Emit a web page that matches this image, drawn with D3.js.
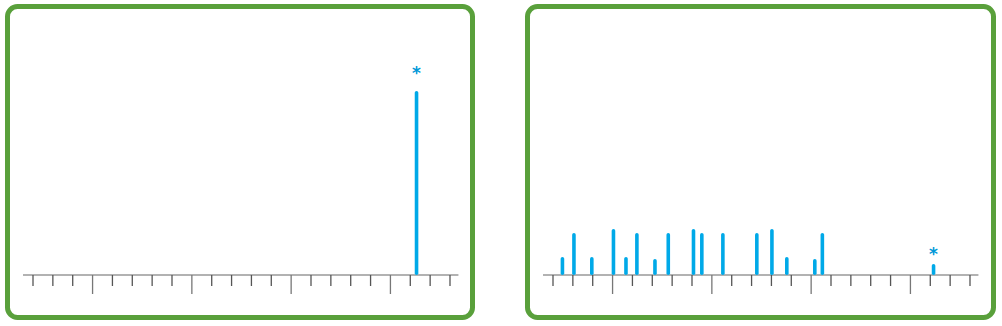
<!DOCTYPE html>
<html>
<head>
<meta charset="utf-8">
<script src="https://cdn.jsdelivr.net/npm/d3@7"></script>
<style>
	body { margin: 0; background: #fff; }
	svg { display: block; }
</style>
</head>
<body>
<div id="viz-container"></div>
<script>
// tick positions along each axis (0..21), long tick every 5th starting at 3
var tickIdx = d3.range(0, 22);
var longTicks = [3, 8, 13, 18];

// left panel: single peak
var leftPos = [19.34];
var leftVal = [184];
var leftStar = [true];

// right panel: many small peaks
var rightPos = [0.50, 1.08, 1.98, 3.07, 3.70, 4.25, 5.16, 5.83, 7.10, 7.52, 8.58, 10.29, 11.05, 11.80, 13.21, 13.59, 19.19];
var rightVal = [18, 42, 18, 46, 18, 42, 16, 42, 46, 42, 42, 42, 46, 18, 16, 42, 11];
var rightStar = [false, false, false, false, false, false, false, false, false, false, false, false, false, false, false, false, true];

var W = 1002, H = 326;

var svg = d3.select('#viz-container')
	.append('svg')
	.attr('width', W)
	.attr('height', H);

var x = d3.scaleLinear().domain([0, 21]).range([27.5, 444.5]);
var y = d3.scaleLinear().domain([0, 200]).range([275, 75]);

function drawPanel (left, width, pos, val, star, starGap) {
	var g = svg.append('g').attr('transform', 'translate(' + left + ',0)');

	g.append('rect')
		.attr('x', 2.5)
		.attr('y', 6.5)
		.attr('width', width)
		.attr('height', 311)
		.attr('rx', 10)
		.attr('fill', '#fff')
		.attr('stroke', '#59a03b')
		.attr('stroke-width', 5);

	// axis line
	g.append('line')
		.attr('x1', x(-0.48))
		.attr('x2', x(21.45))
		.attr('y1', y(0))
		.attr('y2', y(0))
		.attr('stroke', '#999')
		.attr('stroke-width', 1.5);

	var axis = d3.axisBottom(x)
		.tickValues(tickIdx)
		.tickSize(11)
		.tickFormat('');

	var ax = g.append('g')
		.attr('transform', 'translate(0,' + y(0) + ')')
		.call(axis);
	ax.select('.domain').remove();
	ax.selectAll('.tick line')
		.attr('stroke', function (d) { return longTicks.indexOf(d) >= 0 ? '#777' : '#555'; })
		.attr('stroke-width', 1.3)
		.attr('y2', function (d) { return longTicks.indexOf(d) >= 0 ? 19 : 11; });

	var bw = 3.6;
	g.selectAll('rect.bar')
		.data(pos)
		.enter()
		.append('rect')
		.attr('class', 'bar')
		.attr('x', function (d) { return x(d) - bw / 2; })
		.attr('y', function (d, i) { return y(val[i]); })
		.attr('width', bw)
		.attr('height', function (d, i) { return y(0) - y(val[i]); })
		.attr('rx', bw / 2)
		.attr('fill', '#00a9e8');

	g.selectAll('text.star')
		.data(pos.filter(function (d, i) { return star[i]; }))
		.enter()
		.append('text')
		.attr('class', 'star')
		.attr('x', function (d) { return x(d); })
		.attr('y', function (d) { return y(val[pos.indexOf(d)]) - starGap; })
		.attr('text-anchor', 'middle')
		.attr('font-family', 'DejaVu Sans, sans-serif')
		.attr('font-weight', 'bold')
		.attr('font-size', 17)
		.attr('fill', '#0098d8')
		.text('*');
}

drawPanel(5, 465, leftPos, leftVal, leftStar, 12);
drawPanel(525, 466, rightPos, rightVal, rightStar, 4);
</script>
</body>
</html>
